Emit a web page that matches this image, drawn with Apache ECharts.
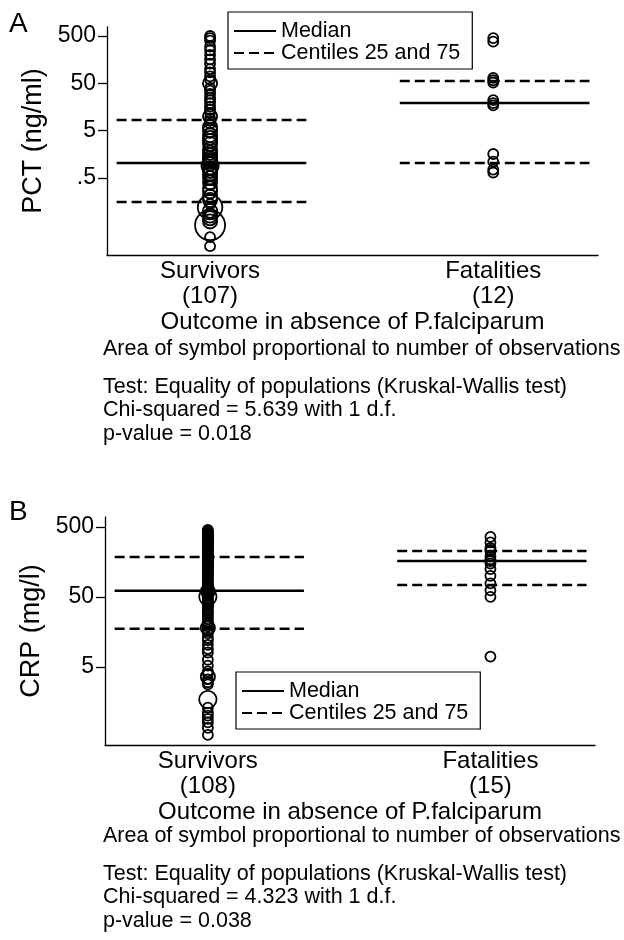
<!DOCTYPE html>
<html>
<head>
<meta charset="utf-8">
<script src="https://cdn.jsdelivr.net/npm/echarts@6/dist/echarts.min.js"></script>
<style>
html,body{margin:0;padding:0;background:#fff;}
#c{width:624px;height:940px;}
</style>
</head>
<body>
<div id="c"></div>
<script>
// ---------- DATA ----------
const groups = ['Survivors', 'Fatalities'];
const pctCounts = [107, 12];
const crpCounts = [108, 15];
const pctTicks = [0.5, 5, 50, 500];
const crpTicks = [5, 50, 500];

// [value, number of observations]
const pctSurvivors = [
  [0.018,1],[0.028,1],[0.05,9],[0.06,2],[0.07,2],[0.08,2],[0.09,1],[0.1,2],[0.12,6],[0.14,1],
  [0.17,2],[0.2,2],[0.23,1],[0.26,2],[0.3,2],[0.35,1],[0.4,2],[0.45,1],[0.5,2],[0.55,1],[0.6,2],[0.7,2],[0.8,2],[0.9,3],[1.0,2],
  [1.1,2],[1.2,2],[1.3,2],[1.5,2],[1.7,2],[2,2],[2.6,2],[3,2],[3.5,2],[4,2],[4.5,1],[5,2],[6,2],[7,1],[8,1],
  [9,1],[10,2],[12,1],[14,1],[16,1],[19,1],[22,1],[25,1],[30,1],[35,1],[40,1],[50,2],[60,1],[70,1],[85,1],
  [100,1],[130,1],[160,1],[200,1],[250,1],[300,1],[400,1],[450,1],[500,1]
];
const pctFatalities = [
  [450,1],[380,1],[65,1],[58,1],[52,1],[22,1],[19,1],[17,1],[1.6,1],[1.1,1],[0.75,1],[0.65,1]
];
const crpSurvivors = [
  [0.53,1],[0.67,1],[0.8,1],[0.9,1],[1.0,1],[1.1,1],[1.3,1],[1.7,3],[2.8,1],[3.0,1],[3.3,1],[3.6,2],
  [4.0,1],[4.3,1],[5.2,1],[6.3,1],[8,1],[9,1],[10.3,1],[12,1],[13,1],[15,1],[16,1],[17,1],
  [18,2],[19,1],[20,1],[21,1],[22,1],[24,1],[26,1],[28,1],[30,1],[32,1],[34,1],[36,1],[38,1],[40,1],[42,1],[44,1],[46,1],[48,1],[50,3],[52,1],[55,1],[58,1],[60,2],
  [62,1],[65,1],[68,1],[72,1],[75,1],[80,1],[85,1],[90,1],[95,1],[100,1],[105,1],[110,1],[115,1],[120,1],[125,1],[130,1],[135,1],[140,1],[145,1],[150,1],[155,1],[160,1],[165,1],[170,1],[175,1],[180,1],[185,1],
  [190,1],[195,1],[200,1],[210,1],[220,1],[230,1],[240,1],[250,1],[260,1],[270,1],[280,1],[290,1],[300,1],[310,1],[320,1],[330,1],[340,1],[350,1],[360,1],[370,1],[380,1],[390,1],[400,1],[410,1],[425,1],[440,1],[455,1]
];
const crpFatalities = [
  [360,1],[300,1],[250,1],[235,1],[225,1],[190,1],[170,1],[163,1],[150,1],[125,1],[100,1],[78,1],[62,1],[50,1],[7,1]
];

const pctMedian = [1.03, 19.2];
const pctCentile25 = [0.155, 1.03];
const pctCentile75 = [8.4, 56];
const crpMedian = [61, 163];
const crpCentile25 = [17.5, 74];
const crpCentile75 = [186, 227];

const pctNotes = ['Test: Equality of populations (Kruskal-Wallis test)', 'Chi-squared = 5.639 with 1 d.f.', 'p-value = 0.018'];
const crpNotes = ['Test: Equality of populations (Kruskal-Wallis test)', 'Chi-squared = 4.323 with 1 d.f.', 'p-value = 0.038'];

// ---------- CHART ----------
const FONT = '"Liberation Sans", Arial, Helvetica, sans-serif';
const chart = echarts.init(document.getElementById('c'), null, {renderer: 'canvas'});

function scatterSeries(gi, gx, pts) {
  return {
    type: 'scatter', xAxisIndex: gi, yAxisIndex: gi, silent: true, z: 3,
    data: pts.map(p => [gx, p[0], p[1]]),
    symbol: 'circle',
    symbolSize: d => 10 * Math.sqrt(d[2]),
    itemStyle: {color: 'rgba(0,0,0,0)', borderColor: '#000', borderWidth: 1.8, opacity: 1}
  };
}
function hLine(gi, gx, v, name, dashed, w) {
  return {
    type: 'line', name: name, xAxisIndex: gi, yAxisIndex: gi, silent: true, z: 2,
    data: [[gx - 0.33, v], [gx + 0.34, v]],
    symbol: 'none', showSymbol: false, symbolSize: 0,
    itemStyle: {color: '#000', opacity: 0},
    lineStyle: {color: '#000', width: w, type: dashed ? [10, 5] : 'solid', opacity: 1}
  };
}
function panelSeries(gi, surv, fat, med, c25, c75) {
  const s = [];
  [1, 2].forEach((gx, i) => {
    s.push(hLine(gi, gx, med[i], 'Median', false, 2.5));
    s.push(hLine(gi, gx, c25[i], 'Centiles 25 and 75', true, 2.5));
    s.push(hLine(gi, gx, c75[i], 'Centiles 25 and 75', true, 2.5));
  });
  s.push(scatterSeries(gi, 1, surv));
  s.push(scatterSeries(gi, 2, fat));
  return s;
}
function xAxis(gi, counts) {
  return {
    type: 'value', gridIndex: gi, min: 0.636, max: 2.37,
    name: 'Outcome in absence of P.falciparum', nameLocation: 'middle', nameGap: 55,
    nameTextStyle: {fontFamily: FONT, fontSize: 24, color: '#000', verticalAlign: 'top'},
    axisLine: {show: true, lineStyle: {color: '#000', width: 1.3}},
    axisTick: {show: false},
    splitLine: {show: false},
    axisLabel: {
      customValues: [1, 2], margin: 4, fontFamily: FONT, fontSize: 24, color: '#000', lineHeight: 25,
      formatter: v => { const i = Math.round(v) - 1; return groups[i] + '\n(' + counts[i] + ')'; }
    }
  };
}
function yAxis(gi, name, min, max, ticks) {
  return {
    type: 'log', gridIndex: gi, min: min, max: max, logBase: 10,
    name: name, nameLocation: 'middle', nameGap: 55,
    nameTextStyle: {fontFamily: FONT, fontSize: 27, color: '#000'},
    axisLine: {show: true, lineStyle: {color: '#000', width: 1.3}},
    axisTick: {show: true, length: 9, customValues: ticks, lineStyle: {color: '#000', width: 1.3}},
    splitLine: {show: false},
    minorTick: {show: false},
    axisLabel: {
      customValues: ticks, margin: 11, fontFamily: FONT, fontSize: 23, color: '#000',
      formatter: v => (v < 1 ? String(v).replace(/^0/, '') : String(v))
    }
  };
}
function legend(left, top) {
  return {
    orient: 'vertical', left: left, top: top,
    data: ['Median', 'Centiles 25 and 75'],
    itemWidth: 42, itemHeight: 14, itemGap: 0,
    padding: [8, 12, 5, 5],
    borderColor: '#000', borderWidth: 1.2, backgroundColor: '#fff',
    selectedMode: false,
    itemStyle: {opacity: 0},
    textStyle: {fontFamily: FONT, fontSize: 21.5, color: '#000', lineHeight: 22}
  };
}
function notes(top, lines) {
  return {type: 'text', left: 103, top: top, silent: true,
    style: {text: lines.join('\n'), font: '21.5px ' + FONT, fill: '#000', lineHeight: 23.5}};
}

const option = {
  animation: false,
  backgroundColor: '#fff',
  grid: [
    {left: 107, top: 27, width: 491, height: 228, outerBoundsMode: 'none', containLabel: false},
    {left: 105, top: 517, width: 490, height: 228, outerBoundsMode: 'none', containLabel: false}
  ],
  xAxis: [xAxis(0, pctCounts), xAxis(1, crpCounts)],
  yAxis: [yAxis(0, 'PCT (ng/ml)', 0.0117, 775, pctTicks), yAxis(1, 'CRP (mg/l)', 0.38, 694, crpTicks)],
  legend: [legend(228, 12), legend(236, 672)],
  series: [].concat(
    panelSeries(0, pctSurvivors, pctFatalities, pctMedian, pctCentile25, pctCentile75),
    panelSeries(1, crpSurvivors, crpFatalities, crpMedian, crpCentile25, crpCentile75)
  ),
  graphic: [
    {type: 'text', left: 9, top: 10, silent: true, style: {text: 'A', font: '28px ' + FONT, fill: '#000'}},
    {type: 'text', left: 9, top: 498, silent: true, style: {text: 'B', font: '28px ' + FONT, fill: '#000'}},
    {type: 'text', left: 103, top: 338, silent: true, style: {text: 'Area of symbol proportional to number of observations', font: '21.5px ' + FONT, fill: '#000'}},
    notes(375, pctNotes),
    {type: 'text', left: 103, top: 825, silent: true, style: {text: 'Area of symbol proportional to number of observations', font: '21.5px ' + FONT, fill: '#000'}},
    notes(862, crpNotes)
  ]
};
chart.setOption(option);
</script>
</body>
</html>
